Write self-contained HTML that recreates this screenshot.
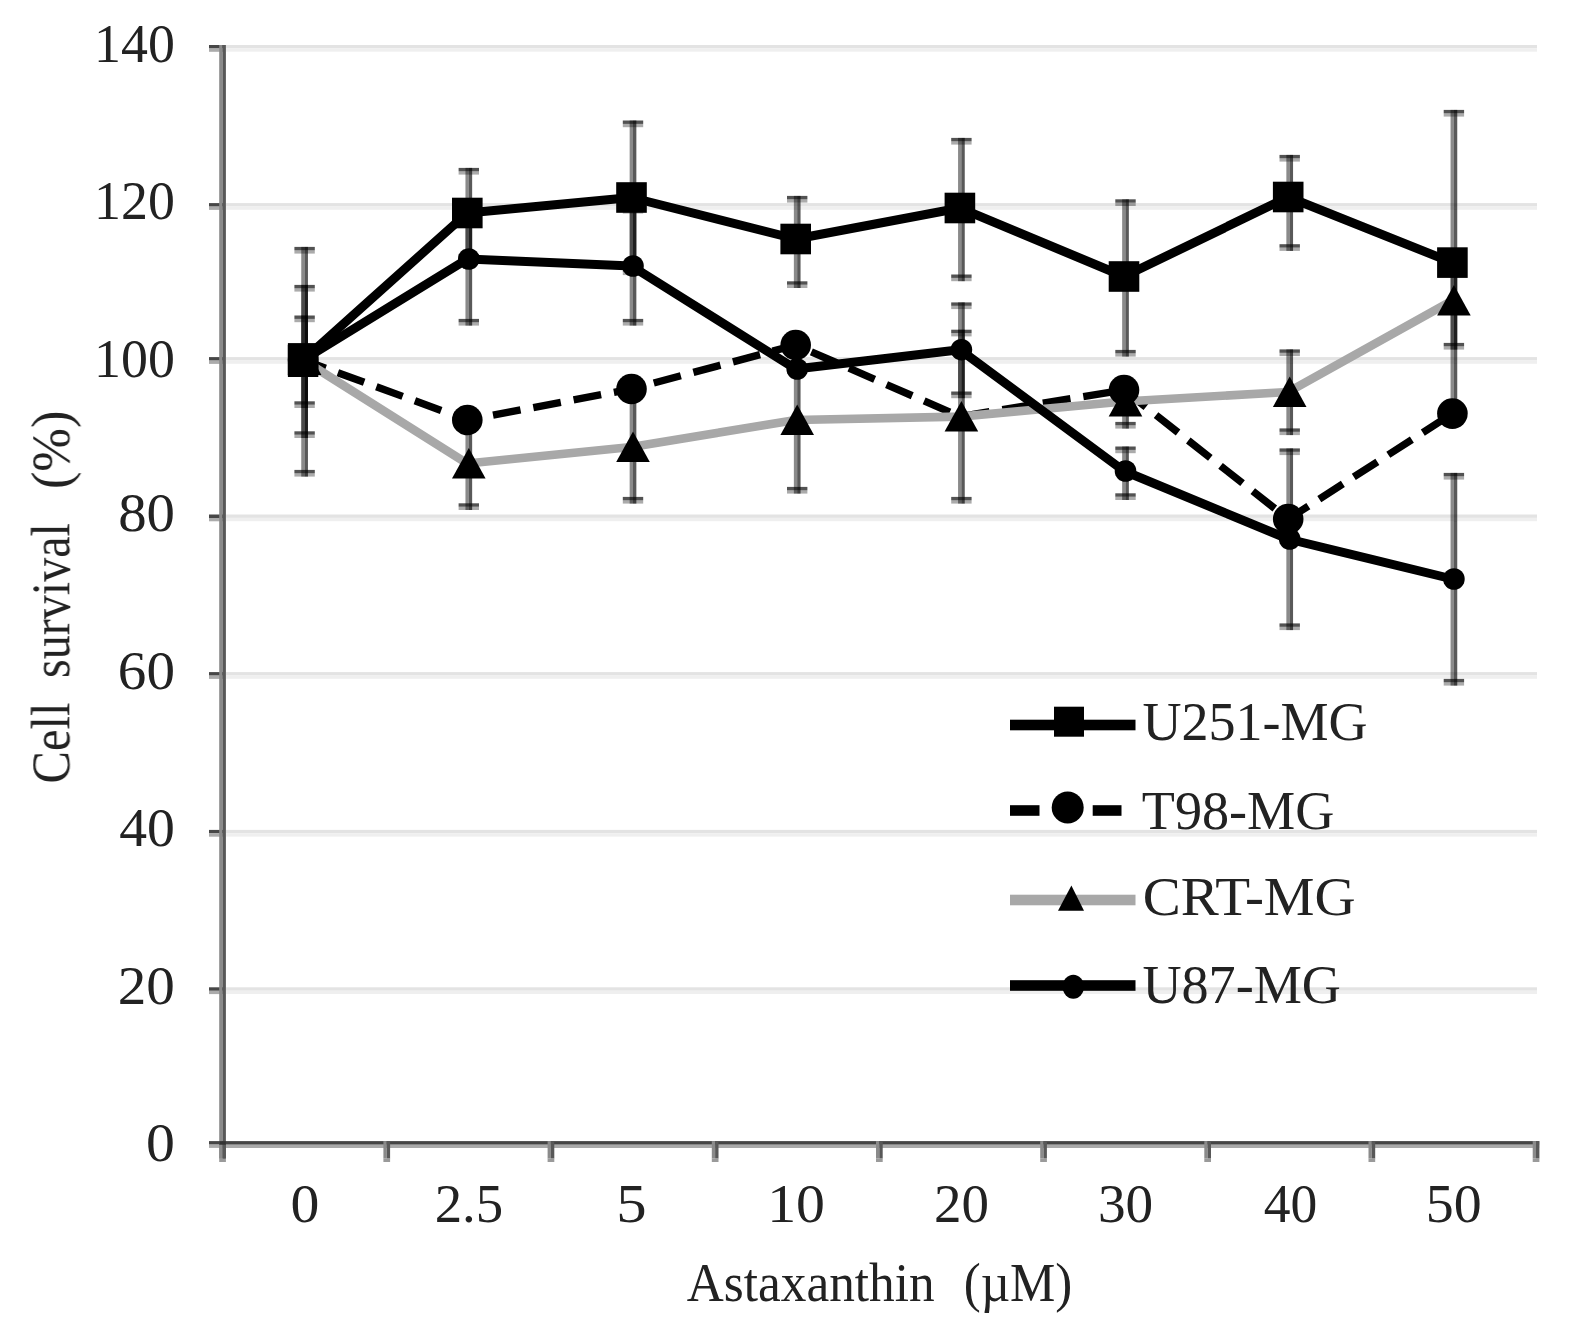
<!DOCTYPE html>
<html lang="en"><head><meta charset="utf-8"><title>Cell survival vs Astaxanthin</title>
<style>
html,body{margin:0;padding:0;background:#fff;}
body{width:1575px;height:1334px;overflow:hidden;}
svg{display:block;}
text{font-family:"Liberation Serif", serif;font-size:56.0px;fill:#202020;}
</style></head><body>
<svg width="1575" height="1334" viewBox="0 0 1575 1334">
<defs><filter id="soft" x="0" y="0" width="1575" height="1334" filterUnits="userSpaceOnUse"><feGaussianBlur stdDeviation="0.7"/></filter></defs>
<rect x="0" y="0" width="1575" height="1334" fill="#ffffff"/>
<g filter="url(#soft)">
<g id="grid">
<rect x="226" y="45.0" width="1311" height="3.4" fill="#e3e3e3"/>
<rect x="226" y="48.4" width="1311" height="3.3" fill="#efefef"/>
<rect x="226" y="203.1" width="1311" height="3.4" fill="#e3e3e3"/>
<rect x="226" y="206.5" width="1311" height="3.3" fill="#efefef"/>
<rect x="226" y="357.1" width="1311" height="3.4" fill="#e3e3e3"/>
<rect x="226" y="360.5" width="1311" height="3.3" fill="#efefef"/>
<rect x="226" y="514.5" width="1311" height="3.4" fill="#e3e3e3"/>
<rect x="226" y="517.9" width="1311" height="3.3" fill="#efefef"/>
<rect x="226" y="672.1" width="1311" height="3.4" fill="#e3e3e3"/>
<rect x="226" y="675.5" width="1311" height="3.3" fill="#efefef"/>
<rect x="226" y="829.9" width="1311" height="3.4" fill="#e3e3e3"/>
<rect x="226" y="833.3" width="1311" height="3.3" fill="#efefef"/>
<rect x="226" y="987.3" width="1311" height="3.4" fill="#e3e3e3"/>
<rect x="226" y="990.7" width="1311" height="3.3" fill="#efefef"/>
</g>
<g id="axes">
<rect x="209" y="45.0" width="14" height="3.5" fill="#474747"/>
<rect x="209" y="48.5" width="14" height="3.3" fill="#ababab"/>
<rect x="209" y="203.1" width="14" height="3.5" fill="#474747"/>
<rect x="209" y="206.6" width="14" height="3.3" fill="#ababab"/>
<rect x="209" y="357.1" width="14" height="3.5" fill="#474747"/>
<rect x="209" y="360.6" width="14" height="3.3" fill="#ababab"/>
<rect x="209" y="514.5" width="14" height="3.5" fill="#474747"/>
<rect x="209" y="518.0" width="14" height="3.3" fill="#ababab"/>
<rect x="209" y="672.1" width="14" height="3.5" fill="#474747"/>
<rect x="209" y="675.6" width="14" height="3.3" fill="#ababab"/>
<rect x="209" y="829.9" width="14" height="3.5" fill="#474747"/>
<rect x="209" y="833.4" width="14" height="3.3" fill="#ababab"/>
<rect x="209" y="987.3" width="14" height="3.5" fill="#474747"/>
<rect x="209" y="990.8" width="14" height="3.3" fill="#ababab"/>
<rect x="209" y="1141.1" width="14" height="3.5" fill="#474747"/>
<rect x="209" y="1144.6" width="14" height="3.3" fill="#ababab"/>
<rect x="219.2" y="1141.1" width="1320" height="3.6" fill="#444444"/>
<rect x="219.2" y="1144.7" width="1320" height="3.3" fill="#a9a9a9"/>
<rect x="219.2" y="1141.1" width="3.3" height="17.5" fill="#8a8a8a"/>
<rect x="222.5" y="1141.1" width="3.4" height="17.5" fill="#595959"/>
<rect x="219.2" y="1158.6" width="6.7" height="3.4" fill="#9a9a9a"/>
<rect x="383.4" y="1141.1" width="3.3" height="17.5" fill="#8a8a8a"/>
<rect x="386.7" y="1141.1" width="3.4" height="17.5" fill="#595959"/>
<rect x="383.4" y="1158.6" width="6.7" height="3.4" fill="#9a9a9a"/>
<rect x="547.6" y="1141.1" width="3.3" height="17.5" fill="#8a8a8a"/>
<rect x="550.9" y="1141.1" width="3.4" height="17.5" fill="#595959"/>
<rect x="547.6" y="1158.6" width="6.7" height="3.4" fill="#9a9a9a"/>
<rect x="711.8" y="1141.1" width="3.3" height="17.5" fill="#8a8a8a"/>
<rect x="715.1" y="1141.1" width="3.4" height="17.5" fill="#595959"/>
<rect x="711.8" y="1158.6" width="6.7" height="3.4" fill="#9a9a9a"/>
<rect x="876.0" y="1141.1" width="3.3" height="17.5" fill="#8a8a8a"/>
<rect x="879.3" y="1141.1" width="3.4" height="17.5" fill="#595959"/>
<rect x="876.0" y="1158.6" width="6.7" height="3.4" fill="#9a9a9a"/>
<rect x="1040.2" y="1141.1" width="3.3" height="17.5" fill="#8a8a8a"/>
<rect x="1043.5" y="1141.1" width="3.4" height="17.5" fill="#595959"/>
<rect x="1040.2" y="1158.6" width="6.7" height="3.4" fill="#9a9a9a"/>
<rect x="1204.3" y="1141.1" width="3.3" height="17.5" fill="#8a8a8a"/>
<rect x="1207.6" y="1141.1" width="3.4" height="17.5" fill="#595959"/>
<rect x="1204.3" y="1158.6" width="6.7" height="3.4" fill="#9a9a9a"/>
<rect x="1368.5" y="1141.1" width="3.3" height="17.5" fill="#8a8a8a"/>
<rect x="1371.8" y="1141.1" width="3.4" height="17.5" fill="#595959"/>
<rect x="1368.5" y="1158.6" width="6.7" height="3.4" fill="#9a9a9a"/>
<rect x="1532.7" y="1141.1" width="3.3" height="17.5" fill="#8a8a8a"/>
<rect x="1536.0" y="1141.1" width="3.4" height="17.5" fill="#595959"/>
<rect x="1532.7" y="1158.6" width="6.7" height="3.4" fill="#9a9a9a"/>
<rect x="219.2" y="45" width="3.3" height="1113.6" fill="#8a8a8a"/>
<rect x="222.5" y="45" width="3.4" height="1113.6" fill="#595959"/>
<rect x="219.2" y="1141.1" width="6.7" height="3.6" fill="#333333"/>
</g>
<g id="lines" fill="none" stroke-linejoin="round">
<polyline points="303.1,360.0 467.3,213.0 631.5,197.5 795.7,239.0 959.9,208.0 1124.0,276.5 1288.2,197.0 1452.4,262.6" stroke="#000" stroke-width="9.0"/>
<polyline points="303.1,360.0 467.3,420.0 631.5,389.0 795.7,345.0 959.9,416.5 1124.0,390.0 1288.2,519.0 1452.4,413.6" stroke="#000" stroke-width="7.4" stroke-dasharray="28 13" stroke-dashoffset="4"/>
<polyline points="303.1,360.0 467.3,463.5 631.5,447.0 795.7,420.0 959.9,416.6 1124.0,401.5 1288.2,392.0 1452.4,300.5" stroke="#a8a8a8" stroke-width="8.6"/>
<polyline points="303.1,360.0 467.3,259.0 631.5,266.0 795.7,369.0 959.9,349.7 1124.0,471.0 1288.2,539.0 1452.4,579.0" stroke="#000" stroke-width="9.0"/>
</g>
<g id="errorbars" fill="#000">
<rect x="301.25" y="246.9" width="3.35" height="229.7" fill-opacity="0.46"/>
<rect x="304.60" y="246.9" width="3.35" height="229.7" fill-opacity="0.65"/>
<rect x="294.4" y="246.9" width="20.4" height="3.4" fill-opacity="0.68"/>
<rect x="294.4" y="250.3" width="20.4" height="3.3" fill-opacity="0.33"/>
<rect x="294.4" y="469.9" width="20.4" height="3.4" fill-opacity="0.68"/>
<rect x="294.4" y="473.3" width="20.4" height="3.3" fill-opacity="0.33"/>
<rect x="301.25" y="284.9" width="3.35" height="153.1" fill-opacity="0.46"/>
<rect x="304.60" y="284.9" width="3.35" height="153.1" fill-opacity="0.65"/>
<rect x="294.4" y="284.9" width="20.4" height="3.4" fill-opacity="0.68"/>
<rect x="294.4" y="288.3" width="20.4" height="3.3" fill-opacity="0.33"/>
<rect x="294.4" y="431.3" width="20.4" height="3.4" fill-opacity="0.68"/>
<rect x="294.4" y="434.7" width="20.4" height="3.3" fill-opacity="0.33"/>
<rect x="301.25" y="315.5" width="3.35" height="92.5" fill-opacity="0.46"/>
<rect x="304.60" y="315.5" width="3.35" height="92.5" fill-opacity="0.65"/>
<rect x="294.4" y="315.5" width="20.4" height="3.4" fill-opacity="0.68"/>
<rect x="294.4" y="318.9" width="20.4" height="3.3" fill-opacity="0.33"/>
<rect x="294.4" y="401.3" width="20.4" height="3.4" fill-opacity="0.68"/>
<rect x="294.4" y="404.7" width="20.4" height="3.3" fill-opacity="0.33"/>
<rect x="465.45" y="167.9" width="3.35" height="92.7" fill-opacity="0.46"/>
<rect x="468.80" y="167.9" width="3.35" height="92.7" fill-opacity="0.65"/>
<rect x="458.6" y="167.9" width="20.4" height="3.4" fill-opacity="0.68"/>
<rect x="458.6" y="171.3" width="20.4" height="3.3" fill-opacity="0.33"/>
<rect x="458.6" y="253.9" width="20.4" height="3.4" fill-opacity="0.68"/>
<rect x="458.6" y="257.3" width="20.4" height="3.3" fill-opacity="0.33"/>
<rect x="465.45" y="199.9" width="3.35" height="125.7" fill-opacity="0.46"/>
<rect x="468.80" y="199.9" width="3.35" height="125.7" fill-opacity="0.65"/>
<rect x="458.6" y="199.9" width="20.4" height="3.4" fill-opacity="0.68"/>
<rect x="458.6" y="203.3" width="20.4" height="3.3" fill-opacity="0.33"/>
<rect x="458.6" y="318.9" width="20.4" height="3.4" fill-opacity="0.68"/>
<rect x="458.6" y="322.3" width="20.4" height="3.3" fill-opacity="0.33"/>
<rect x="465.45" y="417.4" width="3.35" height="92.6" fill-opacity="0.46"/>
<rect x="468.80" y="417.4" width="3.35" height="92.6" fill-opacity="0.65"/>
<rect x="458.6" y="417.4" width="20.4" height="3.4" fill-opacity="0.68"/>
<rect x="458.6" y="420.8" width="20.4" height="3.3" fill-opacity="0.33"/>
<rect x="458.6" y="503.3" width="20.4" height="3.4" fill-opacity="0.68"/>
<rect x="458.6" y="506.7" width="20.4" height="3.3" fill-opacity="0.33"/>
<rect x="629.65" y="120.5" width="3.35" height="154.6" fill-opacity="0.46"/>
<rect x="633.00" y="120.5" width="3.35" height="154.6" fill-opacity="0.65"/>
<rect x="622.8" y="120.5" width="20.4" height="3.4" fill-opacity="0.68"/>
<rect x="622.8" y="123.9" width="20.4" height="3.3" fill-opacity="0.33"/>
<rect x="622.8" y="268.4" width="20.4" height="3.4" fill-opacity="0.68"/>
<rect x="622.8" y="271.8" width="20.4" height="3.3" fill-opacity="0.33"/>
<rect x="629.65" y="206.9" width="3.35" height="118.7" fill-opacity="0.46"/>
<rect x="633.00" y="206.9" width="3.35" height="118.7" fill-opacity="0.65"/>
<rect x="622.8" y="206.9" width="20.4" height="3.4" fill-opacity="0.68"/>
<rect x="622.8" y="210.3" width="20.4" height="3.3" fill-opacity="0.33"/>
<rect x="622.8" y="318.9" width="20.4" height="3.4" fill-opacity="0.68"/>
<rect x="622.8" y="322.3" width="20.4" height="3.3" fill-opacity="0.33"/>
<rect x="629.65" y="390.9" width="3.35" height="112.7" fill-opacity="0.46"/>
<rect x="633.00" y="390.9" width="3.35" height="112.7" fill-opacity="0.65"/>
<rect x="622.8" y="390.9" width="20.4" height="3.4" fill-opacity="0.68"/>
<rect x="622.8" y="394.3" width="20.4" height="3.3" fill-opacity="0.33"/>
<rect x="622.8" y="496.9" width="20.4" height="3.4" fill-opacity="0.68"/>
<rect x="622.8" y="500.3" width="20.4" height="3.3" fill-opacity="0.33"/>
<rect x="793.85" y="195.9" width="3.35" height="92.1" fill-opacity="0.46"/>
<rect x="797.20" y="195.9" width="3.35" height="92.1" fill-opacity="0.65"/>
<rect x="787.0" y="195.9" width="20.4" height="3.4" fill-opacity="0.68"/>
<rect x="787.0" y="199.3" width="20.4" height="3.3" fill-opacity="0.33"/>
<rect x="787.0" y="281.3" width="20.4" height="3.4" fill-opacity="0.68"/>
<rect x="787.0" y="284.7" width="20.4" height="3.3" fill-opacity="0.33"/>
<rect x="793.85" y="346.9" width="3.35" height="146.7" fill-opacity="0.46"/>
<rect x="797.20" y="346.9" width="3.35" height="146.7" fill-opacity="0.65"/>
<rect x="787.0" y="346.9" width="20.4" height="3.4" fill-opacity="0.68"/>
<rect x="787.0" y="350.3" width="20.4" height="3.3" fill-opacity="0.33"/>
<rect x="787.0" y="486.9" width="20.4" height="3.4" fill-opacity="0.68"/>
<rect x="787.0" y="490.3" width="20.4" height="3.3" fill-opacity="0.33"/>
<rect x="958.05" y="137.9" width="3.35" height="143.3" fill-opacity="0.46"/>
<rect x="961.40" y="137.9" width="3.35" height="143.3" fill-opacity="0.65"/>
<rect x="951.2" y="137.9" width="20.4" height="3.4" fill-opacity="0.68"/>
<rect x="951.2" y="141.3" width="20.4" height="3.3" fill-opacity="0.33"/>
<rect x="951.2" y="274.5" width="20.4" height="3.4" fill-opacity="0.68"/>
<rect x="951.2" y="277.9" width="20.4" height="3.3" fill-opacity="0.33"/>
<rect x="958.05" y="302.4" width="3.35" height="95.8" fill-opacity="0.46"/>
<rect x="961.40" y="302.4" width="3.35" height="95.8" fill-opacity="0.65"/>
<rect x="951.2" y="302.4" width="20.4" height="3.4" fill-opacity="0.68"/>
<rect x="951.2" y="305.8" width="20.4" height="3.3" fill-opacity="0.33"/>
<rect x="951.2" y="391.5" width="20.4" height="3.4" fill-opacity="0.68"/>
<rect x="951.2" y="394.9" width="20.4" height="3.3" fill-opacity="0.33"/>
<rect x="958.05" y="329.7" width="3.35" height="173.9" fill-opacity="0.46"/>
<rect x="961.40" y="329.7" width="3.35" height="173.9" fill-opacity="0.65"/>
<rect x="951.2" y="329.7" width="20.4" height="3.4" fill-opacity="0.68"/>
<rect x="951.2" y="333.1" width="20.4" height="3.3" fill-opacity="0.33"/>
<rect x="951.2" y="496.9" width="20.4" height="3.4" fill-opacity="0.68"/>
<rect x="951.2" y="500.3" width="20.4" height="3.3" fill-opacity="0.33"/>
<rect x="1122.15" y="199.3" width="3.35" height="157.3" fill-opacity="0.46"/>
<rect x="1125.50" y="199.3" width="3.35" height="157.3" fill-opacity="0.65"/>
<rect x="1115.3" y="199.3" width="20.4" height="3.4" fill-opacity="0.68"/>
<rect x="1115.3" y="202.7" width="20.4" height="3.3" fill-opacity="0.33"/>
<rect x="1115.3" y="349.9" width="20.4" height="3.4" fill-opacity="0.68"/>
<rect x="1115.3" y="353.3" width="20.4" height="3.3" fill-opacity="0.33"/>
<rect x="1122.15" y="388.9" width="3.35" height="39.7" fill-opacity="0.46"/>
<rect x="1125.50" y="388.9" width="3.35" height="39.7" fill-opacity="0.65"/>
<rect x="1115.3" y="421.9" width="20.4" height="3.4" fill-opacity="0.68"/>
<rect x="1115.3" y="425.3" width="20.4" height="3.3" fill-opacity="0.33"/>
<rect x="1122.15" y="446.5" width="3.35" height="53.5" fill-opacity="0.46"/>
<rect x="1125.50" y="446.5" width="3.35" height="53.5" fill-opacity="0.65"/>
<rect x="1115.3" y="446.5" width="20.4" height="3.4" fill-opacity="0.68"/>
<rect x="1115.3" y="449.9" width="20.4" height="3.3" fill-opacity="0.33"/>
<rect x="1115.3" y="493.3" width="20.4" height="3.4" fill-opacity="0.68"/>
<rect x="1115.3" y="496.7" width="20.4" height="3.3" fill-opacity="0.33"/>
<rect x="1286.35" y="154.9" width="3.35" height="96.0" fill-opacity="0.46"/>
<rect x="1289.70" y="154.9" width="3.35" height="96.0" fill-opacity="0.65"/>
<rect x="1279.5" y="154.9" width="20.4" height="3.4" fill-opacity="0.68"/>
<rect x="1279.5" y="158.3" width="20.4" height="3.3" fill-opacity="0.33"/>
<rect x="1279.5" y="244.2" width="20.4" height="3.4" fill-opacity="0.68"/>
<rect x="1279.5" y="247.6" width="20.4" height="3.3" fill-opacity="0.33"/>
<rect x="1286.35" y="349.4" width="3.35" height="85.7" fill-opacity="0.46"/>
<rect x="1289.70" y="349.4" width="3.35" height="85.7" fill-opacity="0.65"/>
<rect x="1279.5" y="349.4" width="20.4" height="3.4" fill-opacity="0.68"/>
<rect x="1279.5" y="352.8" width="20.4" height="3.3" fill-opacity="0.33"/>
<rect x="1279.5" y="428.4" width="20.4" height="3.4" fill-opacity="0.68"/>
<rect x="1279.5" y="431.8" width="20.4" height="3.3" fill-opacity="0.33"/>
<rect x="1286.35" y="448.4" width="3.35" height="181.7" fill-opacity="0.46"/>
<rect x="1289.70" y="448.4" width="3.35" height="181.7" fill-opacity="0.65"/>
<rect x="1279.5" y="448.4" width="20.4" height="3.4" fill-opacity="0.68"/>
<rect x="1279.5" y="451.8" width="20.4" height="3.3" fill-opacity="0.33"/>
<rect x="1279.5" y="623.4" width="20.4" height="3.4" fill-opacity="0.68"/>
<rect x="1279.5" y="626.8" width="20.4" height="3.3" fill-opacity="0.33"/>
<rect x="1450.55" y="109.9" width="3.35" height="307.7" fill-opacity="0.46"/>
<rect x="1453.90" y="109.9" width="3.35" height="307.7" fill-opacity="0.65"/>
<rect x="1443.7" y="109.9" width="20.4" height="3.4" fill-opacity="0.68"/>
<rect x="1443.7" y="113.3" width="20.4" height="3.3" fill-opacity="0.33"/>
<rect x="1443.7" y="410.9" width="20.4" height="3.4" fill-opacity="0.68"/>
<rect x="1443.7" y="414.3" width="20.4" height="3.3" fill-opacity="0.33"/>
<rect x="1450.55" y="251.9" width="3.35" height="97.7" fill-opacity="0.46"/>
<rect x="1453.90" y="251.9" width="3.35" height="97.7" fill-opacity="0.65"/>
<rect x="1443.7" y="251.9" width="20.4" height="3.4" fill-opacity="0.68"/>
<rect x="1443.7" y="255.3" width="20.4" height="3.3" fill-opacity="0.33"/>
<rect x="1443.7" y="342.9" width="20.4" height="3.4" fill-opacity="0.68"/>
<rect x="1443.7" y="346.3" width="20.4" height="3.3" fill-opacity="0.33"/>
<rect x="1450.55" y="472.9" width="3.35" height="212.7" fill-opacity="0.46"/>
<rect x="1453.90" y="472.9" width="3.35" height="212.7" fill-opacity="0.65"/>
<rect x="1443.7" y="472.9" width="20.4" height="3.4" fill-opacity="0.68"/>
<rect x="1443.7" y="476.3" width="20.4" height="3.3" fill-opacity="0.33"/>
<rect x="1443.7" y="678.9" width="20.4" height="3.4" fill-opacity="0.68"/>
<rect x="1443.7" y="682.3" width="20.4" height="3.3" fill-opacity="0.33"/>
</g>
<g id="markers" fill="#000">
<polygon points="304.6,344.5 287.8,375.0 321.4,375.0"/>
<polygon points="468.8,448.0 452.0,478.5 485.6,478.5"/>
<polygon points="633.0,431.5 616.2,462.0 649.8,462.0"/>
<polygon points="797.2,404.5 780.4,435.0 814.0,435.0"/>
<polygon points="961.4,401.1 944.6,431.6 978.2,431.6"/>
<polygon points="1125.5,386.0 1108.7,416.5 1142.3,416.5"/>
<polygon points="1289.7,376.5 1272.9,407.0 1306.5,407.0"/>
<polygon points="1453.9,285.0 1437.1,315.5 1470.7,315.5"/>
<circle cx="303.1" cy="360.0" r="15.3"/>
<circle cx="467.3" cy="420.0" r="15.3"/>
<circle cx="631.5" cy="389.0" r="15.3"/>
<circle cx="795.7" cy="345.0" r="15.3"/>
<circle cx="1124.0" cy="390.0" r="15.3"/>
<circle cx="1288.2" cy="519.0" r="15.3"/>
<circle cx="1452.4" cy="413.6" r="15.3"/>
<circle cx="304.6" cy="360.0" r="10.8"/>
<circle cx="468.8" cy="259.0" r="10.8"/>
<circle cx="633.0" cy="266.0" r="10.8"/>
<circle cx="797.2" cy="369.0" r="10.8"/>
<circle cx="961.4" cy="349.7" r="10.8"/>
<circle cx="1125.5" cy="471.0" r="10.8"/>
<circle cx="1289.7" cy="539.0" r="10.8"/>
<circle cx="1453.9" cy="579.0" r="10.8"/>
<rect x="287.8" y="344.7" width="30.6" height="30.6"/>
<rect x="452.0" y="197.7" width="30.6" height="30.6"/>
<rect x="616.2" y="182.2" width="30.6" height="30.6"/>
<rect x="780.4" y="223.7" width="30.6" height="30.6"/>
<rect x="944.6" y="192.7" width="30.6" height="30.6"/>
<rect x="1108.7" y="261.2" width="30.6" height="30.6"/>
<rect x="1272.9" y="181.7" width="30.6" height="30.6"/>
<rect x="1437.1" y="247.3" width="30.6" height="30.6"/>
<rect x="287.9" y="343.1" width="30.4" height="33.9"/>
</g>
<g id="legend">
<rect x="1010" y="719.7" width="125.5" height="10.6" fill="#000"/>
<rect x="1054" y="706.7" width="30" height="30" fill="#000"/>
<rect x="1010" y="805.2" width="29.5" height="10.6" fill="#000"/>
<rect x="1092.7" y="805.2" width="28.8" height="10.6" fill="#000"/>
<circle cx="1067.7" cy="807.5" r="16" fill="#000"/>
<rect x="1010" y="894.7" width="125.5" height="10.6" fill="#a8a8a8"/>
<polygon points="1071.4,885.4 1058,910.8 1084,910.8" fill="#000"/>
<rect x="1010" y="980.2" width="125.5" height="10.6" fill="#000"/>
<ellipse cx="1073.3" cy="986.8" rx="10.7" ry="12" fill="#000"/>
</g>
<g id="labels">
<text transform="translate(94.06 61.80) scale(0.9617 0.9750)">140</text>
<text transform="translate(94.06 219.20) scale(0.9617 0.9750)">120</text>
<text transform="translate(94.06 377.20) scale(0.9617 0.9750)">100</text>
<text transform="translate(118.14 531.30) scale(1.0146 0.9750)">80</text>
<text transform="translate(117.84 688.80) scale(1.0201 0.9750)">60</text>
<text transform="translate(119.24 846.40) scale(0.9942 0.9750)">40</text>
<text transform="translate(117.78 1003.80) scale(1.0212 0.9750)">20</text>
<text transform="translate(146.10 1161.40) scale(1.0318 0.9750)">0</text>
<text transform="translate(290.45 1222.30) scale(1.0318 0.9750)">0</text>
<text transform="translate(434.69 1222.30) scale(0.9793 0.9750)">2.5</text>
<text transform="translate(616.22 1222.30) scale(1.0856 0.9750)">5</text>
<text transform="translate(767.17 1222.30) scale(1.0318 0.9750)">10</text>
<text transform="translate(934.03 1222.30) scale(0.9823 0.9750)">20</text>
<text transform="translate(1097.90 1222.30) scale(0.9866 0.9750)">30</text>
<text transform="translate(1263.73 1222.30) scale(0.9563 0.9750)">40</text>
<text transform="translate(1425.71 1222.30) scale(0.9976 0.9750)">50</text>
<text transform="translate(686.79 1301.30) scale(0.9155 0.9750)">Astaxanthin</text>
<text transform="translate(963.76 1301.30) scale(0.9090 0.9750)">(µM)</text>
<g transform="translate(69.3 0) rotate(-90)">
<text transform="translate(-783.49 0.00) scale(0.8673 0.9750)">Cell</text>
<text transform="translate(-677.97 0.00) scale(0.8587 0.9750)">survival</text>
<text transform="translate(-489.11 0.00) scale(0.9365 0.9750)">(%)</text>
</g>
<text transform="translate(1142.47 739.80) scale(0.9649 0.9750)">U251-MG</text>
<text transform="translate(1141.82 828.80) scale(0.9677 0.9750)">T98-MG</text>
<text transform="translate(1142.66 914.70) scale(1.0183 0.9750)">CRT-MG</text>
<text transform="translate(1142.46 1003.30) scale(0.9670 0.9750)">U87-MG</text>
</g>
</g>
</svg>
</body></html>
